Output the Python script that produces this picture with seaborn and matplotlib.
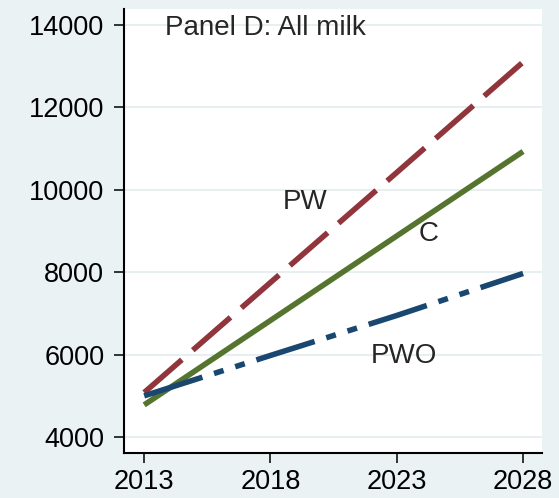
import pandas as pd
import matplotlib
matplotlib.use('Agg')
import matplotlib.pyplot as plt
import seaborn as sns

# Values (5-year steps)
years = [2013, 2018, 2023, 2028]
pw = [5080, 7750, 10420, 13100]
c = [4780, 6830, 8880, 10930]
pwo = [5000, 5980, 6950, 7970]

series_names = ['PW', 'C', 'PWO']
y_ticks = [4000, 6000, 8000, 10000, 12000, 14000]
x_ticks = [2013, 2018, 2023, 2028]

# Stata s2color-like palette
colors = {'PW': '#90353B', 'C': '#55752F', 'PWO': '#1A476F'}
dashes = {'PW': (9, 2.6), 'C': '', 'PWO': (11, 2.2, 1.8, 2.2, 1.8, 2.2)}

df = pd.DataFrame({
    'year': years * 3,
    'value': pw + c + pwo,
    'series': [s for s in series_names for _ in years],
})

sns.set_style('white')
plt.rcParams['font.family'] = ['Liberation Sans', 'DejaVu Sans']

bg = '#EAF2F3'
fig = plt.figure(figsize=(5.59, 4.98), dpi=100, facecolor=bg)
ax = fig.add_axes([0.2218, 0.0904, 0.7478, 0.8915])
ax.set_facecolor('white')

sns.lineplot(data=df, x='year', y='value', hue='series', style='series',
             palette=colors, dashes=dashes, linewidth=4, legend=False, ax=ax)
for line in ax.get_lines():
    line.set_solid_capstyle('butt')
    line.set_dash_capstyle('butt')

ax.set_xlim(2012.2, 2028.75)
ax.set_ylim(3613, 14387)
ax.set_xticks(x_ticks)
ax.set_yticks(y_ticks)
ax.set_xlabel('')
ax.set_ylabel('')

ax.yaxis.grid(True, color='#E6EEF0', linewidth=1.3)
ax.xaxis.grid(False)
ax.set_axisbelow(True)

for side in ['top', 'right']:
    ax.spines[side].set_visible(False)
for side in ['left', 'bottom']:
    ax.spines[side].set_color('black')
    ax.spines[side].set_linewidth(1.5)

ax.tick_params(axis='both', which='major', direction='out', length=7.2, width=1.1,
               color='black', labelsize=19.5, labelcolor='black', left=True, bottom=True)
ax.tick_params(axis='y', pad=7)
ax.tick_params(axis='x', pad=4)

ax.text(2013.83, 13930, 'Panel D: All milk', fontsize=20, ha='left', va='center')
ax.text(2019.39, 9700, 'PW', fontsize=20, ha='center', va='center')
ax.text(2024.27, 8920, 'C', fontsize=20, ha='center', va='center')
ax.text(2023.28, 5970, 'PWO', fontsize=20, ha='center', va='center')

fig.savefig('out.png', dpi=100, facecolor=bg)
